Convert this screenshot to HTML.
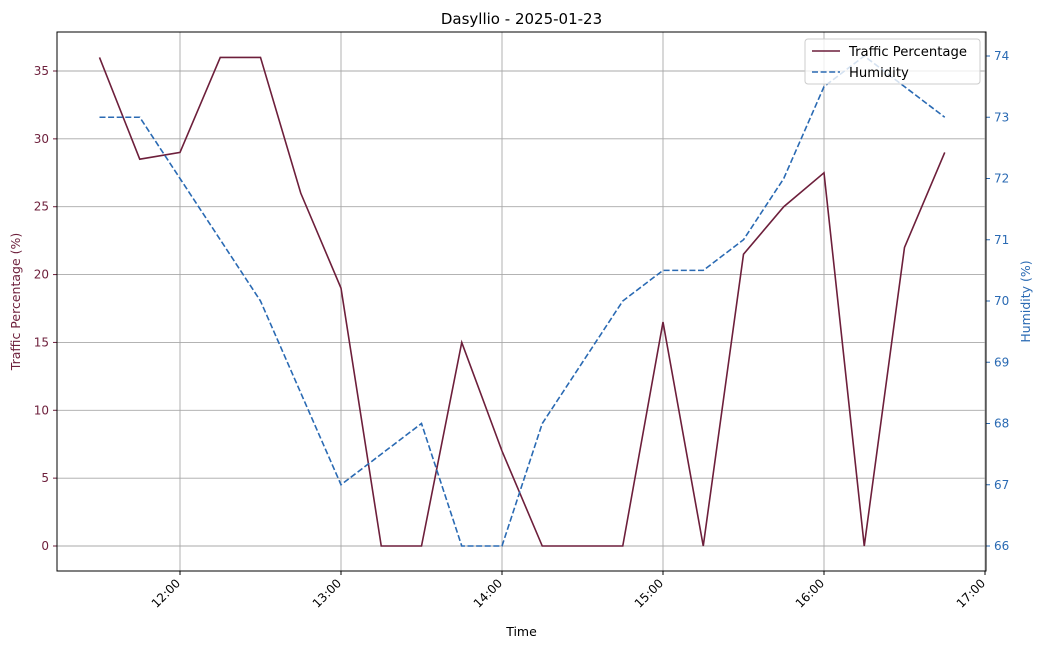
<!DOCTYPE html>
<html><head><meta charset="utf-8"><style>
body{margin:0;background:#fff;font-family:"Liberation Sans","DejaVu Sans",sans-serif}
svg text{font-family:"DejaVu Sans","Liberation Sans",sans-serif}
</style></head><body>
<svg id="chart" width="1043" height="648" xmlns="http://www.w3.org/2000/svg"></svg>
<script>
const times=["11:30","11:45","12:00","12:15","12:30","12:45","13:00","13:15","13:30","13:45","14:00","14:15","14:30","14:45","15:00","15:15","15:30","15:45","16:00","16:15","16:30","16:45"];
const traffic=[36,28.5,29,36,36,26,19,0,0,15,7,0,0,0,16.5,0,21.5,25,27.5,0,22,29];
const humidity=[73,73,72,71,70,68.5,67,67.5,68,66,66,68,69,70,70.5,70.5,71,72,73.5,74,73.5,73];
const xTicks=["12:00","13:00","14:00","15:00","16:00","17:00"];
const yLeftTicks=[0,5,10,15,20,25,30,35];
const yRightTicks=[66,67,68,69,70,71,72,73,74];
const L=57,R=986,T=32,B=571;
const NS="http://www.w3.org/2000/svg";
const svg=document.getElementById('chart');
function tm(s){const p=s.split(':');return +p[0]*60+ +p[1];}
function xS(s){return 180+(tm(s)-720)*161/60;}
function yL(v){return 546-v*(475/35);}
function yR(v){return 546-(v-66)*61.25;}
function el(tag,a,txt){const e=document.createElementNS(NS,tag);for(const k in a)e.setAttribute(k,a[k]);if(txt!==undefined)e.textContent=txt;svg.appendChild(e);return e;}
const tc="#6d1f3b",hc="#2a6ab3";
xTicks.forEach(t=>{const x=xS(t);
const g=el('line',{x1:x,x2:x,y1:T,y2:B,stroke:'#a8a8a8','stroke-width':0.9});

el('line',{x1:x,x2:x,y1:B,y2:B+4,stroke:'#000'});
const ax=x+1,ay=B+13;
const lb=el('text',{x:ax,y:ay,'font-size':12,'text-anchor':'end',transform:`rotate(-45 ${ax} ${ay})`},t);
});
yLeftTicks.forEach(v=>{const y=yL(v);
const g=el('line',{x1:L,x2:R,y1:y,y2:y,stroke:'#a8a8a8','stroke-width':0.9});

el('line',{x1:L-4,x2:L,y1:y,y2:y,stroke:tc});
const lb=el('text',{x:L-8,y:y+4,'font-size':12,'text-anchor':'end',fill:tc},v);
});
yRightTicks.forEach(v=>{const y=yR(v);
el('line',{x1:R,x2:R+4,y1:y,y2:y,stroke:hc});
const lb=el('text',{x:R+8,y:y+4,'font-size':12,fill:hc},v);
});
const p1=el('polyline',{points:times.map((t,i)=>xS(t)+','+yL(traffic[i])).join(' '),fill:'none',stroke:tc,'stroke-width':1.6});

const p2=el('polyline',{points:times.map((t,i)=>xS(t)+','+yR(humidity[i])).join(' '),fill:'none',stroke:hc,'stroke-width':1.6,'stroke-dasharray':'6,2.6'});

const fr=el('rect',{x:L,y:T,width:R-L,height:B-T,fill:'none',stroke:'#000','stroke-width':1});

const ti=el('text',{x:(L+R)/2,y:24,'font-size':15,'text-anchor':'middle'},'Dasyllio - 2025-01-23');

const xt=el('text',{x:(L+R)/2,y:636,'font-size':12.5,'text-anchor':'middle'},'Time');

const yt=el('text',{x:20,y:(T+B)/2,'font-size':12.5,'text-anchor':'middle',fill:tc,transform:`rotate(-90 20 ${(T+B)/2})`},'Traffic Percentage (%)');

const yt2=el('text',{x:1030,y:(T+B)/2,'font-size':12.5,'text-anchor':'middle',fill:hc,transform:`rotate(-90 1030 ${(T+B)/2})`},'Humidity (%)');

const lg=el('rect',{x:805,y:39,width:175,height:45,rx:3,fill:'#fff','fill-opacity':0.8,stroke:'#ccc'});

el('line',{x1:812,x2:840,y1:51,y2:51,stroke:tc,'stroke-width':1.6});
const l1=el('text',{x:849,y:56,'font-size':13.2},'Traffic Percentage');

el('line',{x1:812,x2:840,y1:72,y2:72,stroke:hc,'stroke-width':1.6,'stroke-dasharray':'6,2.6'});
const l2=el('text',{x:849,y:77,'font-size':13.2},'Humidity');

</script>
</body></html>
